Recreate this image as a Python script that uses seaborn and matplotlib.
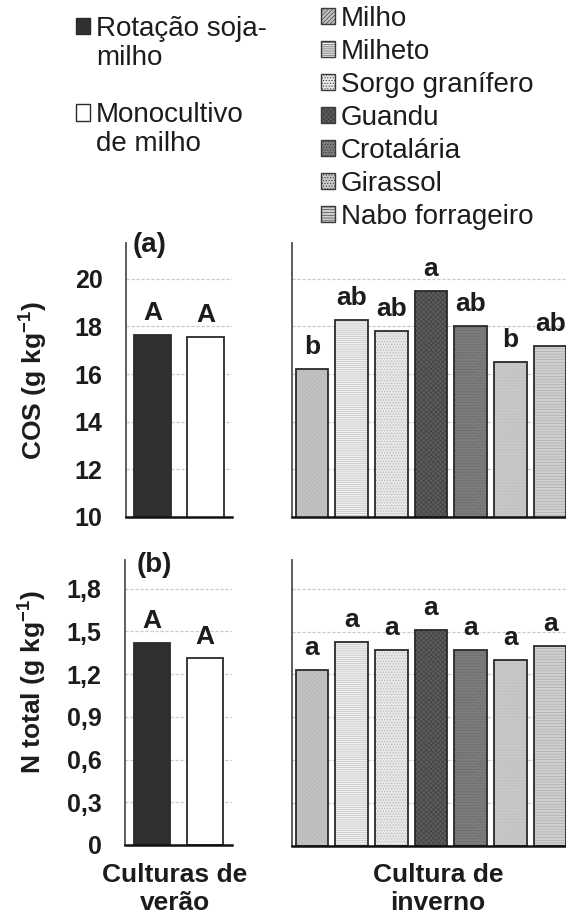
import matplotlib
matplotlib.use("Agg")
import matplotlib.pyplot as plt
import seaborn as sns
import pandas as pd
from matplotlib.patches import Patch

# ---------------- data ----------------
summer = ["Rotação soja-milho", "Monocultivo de milho"]
summer_cos = [17.63, 17.57]
summer_n = [1.42, 1.31]
summer_cos_letters = ["A", "A"]
summer_n_letters = ["A", "A"]

winter = ["Milho", "Milheto", "Sorgo granífero", "Guandu", "Crotalária",
          "Girassol", "Nabo forrageiro"]
winter_cos = [16.23, 18.26, 17.80, 19.49, 18.02, 16.50, 17.18]
winter_n = [1.23, 1.43, 1.37, 1.51, 1.37, 1.30, 1.40]
winter_cos_letters = ["b", "ab", "ab", "a", "ab", "b", "ab"]
winter_n_letters = ["a", "a", "a", "a", "a", "a", "a"]

cos_ticks = [10, 12, 14, 16, 18, 20]
cos_ticklabels = ["10", "12", "14", "16", "18", "20"]
n_ticks = [0, 0.3, 0.6, 0.9, 1.2, 1.5, 1.8]
n_ticklabels = ["0", "0,3", "0,6", "0,9", "1,2", "1,5", "1,8"]

legend_summer = ["Rotação soja-", "milho", "", "Monocultivo", "de milho"]

# ---------------- styles ----------------
summer_face = ["#303030", "#ffffff"]
summer_hatch = ["", ""]
summer_hcolor = ["#303030", "#ffffff"]

winter_face = ["#c2c2c2", "#f0f0f0", "#e6e6e6", "#5c5c5c", "#7c7c7c", "#c8c8c8", "#d0d0d0"]
winter_hatch = ["////////", "--------", "......", "xxxxxxx", "......", "......", "------"]
winter_hcolor = ["#b2b2b2", "#bcbcbc", "#b4b4b4", "#404040", "#606060", "#b8b8b8", "#a8a8a8"]

sns.set_theme(style="white")
plt.rcParams["font.family"] = ["Liberation Sans", "DejaVu Sans"]
plt.rcParams["mathtext.fontset"] = "custom"
plt.rcParams["mathtext.rm"] = "Liberation Sans"
plt.rcParams["mathtext.bf"] = "Liberation Sans:bold"
plt.rcParams["hatch.linewidth"] = 0.45

W, H = 566, 918
fig = plt.figure(figsize=(W / 100, H / 100), dpi=100)
fig.patch.set_facecolor("white")

TXT = "#1c1c1c"


def px_axes(l, t, r, b):
    return fig.add_axes([l / W, 1 - b / H, (r - l) / W, (b - t) / H])


def draw(ax, cats, vals, letters, faces, hatches, hcolors, width, ylim,
         ticks, ticklabels, show_labels):
    df = pd.DataFrame({"cat": cats, "val": vals})
    sns.barplot(data=df, x="cat", y="val", hue="cat", order=cats, hue_order=cats,
                palette=faces, saturation=1, width=width, legend=False,
                errorbar=None, linewidth=0, ax=ax)
    for patch, h, hc in zip(list(ax.patches), hatches, hcolors):
        patch.set_hatch(h)
        patch.set_edgecolor(hc)
        patch.set_linewidth(0)
    sns.barplot(data=df, x="cat", y="val", order=cats, fill=False,
                color="#2a2a2a", saturation=1, width=width, errorbar=None,
                linewidth=1.3, ax=ax)
    for i, (v, lab) in enumerate(zip(vals, letters)):
        ax.annotate(lab, (i, v), xytext=(0, 7), textcoords="offset points",
                    ha="center", va="bottom", fontsize=19, fontweight="bold",
                    color=TXT, annotation_clip=False)
    ax.set_xlim(-0.5, len(cats) - 0.5)
    ax.set_ylim(*ylim)
    ax.set_yticks(ticks)
    if show_labels:
        ax.set_yticklabels(ticklabels, fontsize=18, fontweight="bold", color=TXT)
    else:
        ax.set_yticklabels([])
    ax.tick_params(axis="y", length=0, pad=17)
    ax.set_xticks([])
    ax.set_xlabel("")
    ax.set_ylabel("")
    ax.yaxis.grid(True, color="#c8c8c8", linestyle=(0, (2.5, 1.5)), linewidth=0.9)
    ax.xaxis.grid(False)
    ax.set_axisbelow(True)
    for s in ["top", "right"]:
        ax.spines[s].set_visible(False)
    ax.spines["left"].set_color("#505050")
    ax.spines["left"].set_linewidth(1.3)
    ax.spines["bottom"].set_color("#111111")
    ax.spines["bottom"].set_linewidth(1.8)
    ax.set_facecolor("none")


ax1 = px_axes(126, 243, 232, 517)
draw(ax1, summer, summer_cos, summer_cos_letters, summer_face, summer_hatch,
     summer_hcolor, 0.68, (10, 21.5), cos_ticks, cos_ticklabels, True)
ax2 = px_axes(292, 243, 570, 517)
draw(ax2, winter, winter_cos, winter_cos_letters, winter_face, winter_hatch,
     winter_hcolor, 0.82, (10, 21.5), cos_ticks, cos_ticklabels, False)
ax3 = px_axes(125, 560, 232, 845)
draw(ax3, summer, summer_n, summer_n_letters, summer_face, summer_hatch,
     summer_hcolor, 0.68, (0, 2.0), n_ticks, n_ticklabels, True)
ax4 = px_axes(292, 560, 570, 846)
draw(ax4, winter, winter_n, winter_n_letters, winter_face, winter_hatch,
     winter_hcolor, 0.82, (0, 2.0), n_ticks, n_ticklabels, False)

# y labels
ax1.set_ylabel(r"COS (g kg$^{\mathbf{-1}}$)", fontsize=19, fontweight="bold", color=TXT)
ax1.yaxis.set_label_coords(-0.73, 0.5)
ax3.set_ylabel(r"N total (g kg$^{\mathbf{-1}}$)", fontsize=19, fontweight="bold", color=TXT)
ax3.yaxis.set_label_coords(-0.72, 0.572)

# panel tags
fig.text(133 / W, 1 - 245 / H, "(a)", fontsize=20, fontweight="bold", color=TXT,
         ha="left", va="center")
fig.text(137 / W, 1 - 565 / H, "(b)", fontsize=20, fontweight="bold", color=TXT,
         ha="left", va="center")

# x labels
fig.text(175 / W, 1 - 889 / H, "Culturas de\nverão", fontsize=19, fontweight="bold",
         color=TXT, ha="center", va="center", linespacing=1.2)
fig.text(438 / W, 1 - 889 / H, "Cultura de\ninverno", fontsize=19, fontweight="bold",
         color=TXT, ha="center", va="center", linespacing=1.2)

# legends
invisible = Patch(facecolor="none", edgecolor="none")
left_handles = [Patch(facecolor=summer_face[0], edgecolor="#2a2a2a", linewidth=1.0),
                invisible, invisible,
                Patch(facecolor=summer_face[1], edgecolor="#2a2a2a", linewidth=1.0),
                invisible]
leg1 = fig.legend(left_handles, legend_summer, loc="upper left",
                  bbox_to_anchor=(76 / W, 1 - 16 / H), frameon=False, fontsize=20,
                  handlelength=0.52, handleheight=0.52, handletextpad=0.2,
                  borderpad=0, borderaxespad=0, labelspacing=0.1, labelcolor=TXT)

right_handles = [Patch(facecolor=f, hatch=h, edgecolor="#3a3a3a", linewidth=1.0)
                 for f, h in zip(winter_face, winter_hatch)]
leg2 = fig.legend(right_handles, winter, loc="upper left",
                  bbox_to_anchor=(321 / W, 1 - 6 / H), frameon=False, fontsize=20,
                  handlelength=0.52, handleheight=0.52, handletextpad=0.2,
                  borderpad=0, borderaxespad=0, labelspacing=0.25, labelcolor=TXT)

fig.savefig("out.png", dpi=100, facecolor="white")
